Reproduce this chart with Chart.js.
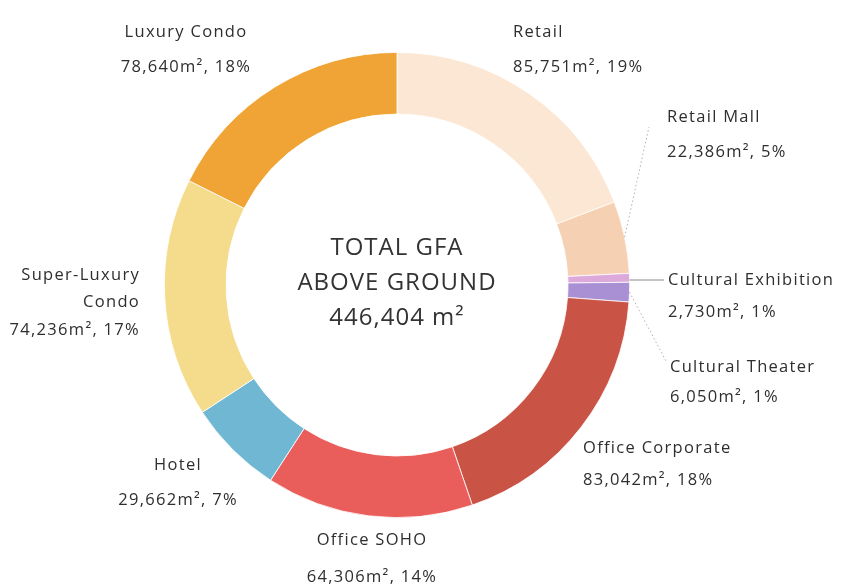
<!DOCTYPE html>
<html>
<head>
<meta charset="utf-8">
<script src="https://cdn.jsdelivr.net/npm/chart.js@4.4.0/dist/chart.umd.min.js"></script>
<style>
html,body{margin:0;padding:0;background:#fff;}
#wrap{width:843px;height:588px;position:relative;}
</style>
</head>
<body>
<div id="wrap"><canvas id="c"></canvas></div>
<script>
// ---- data ----
const categories = ["Retail","Retail Mall","Cultural Exhibition","Cultural Theater","Office Corporate","Office SOHO","Hotel","Super-Luxury Condo","Luxury Condo"];
const areas = [85751, 22386, 2730, 6050, 83042, 64306, 29662, 74236, 78640];
const percents = [19, 5, 1, 1, 18, 14, 7, 17, 18];
const labelLines = [["Retail"],["Retail Mall"],["Cultural Exhibition"],["Cultural Theater"],["Office Corporate"],["Office SOHO"],["Hotel"],["Super-Luxury","Condo"],["Luxury Condo"]];
const centerLines = ["TOTAL GFA","ABOVE GROUND","446,404 m²"];

// ---- style / layout ----
const colors = ["#FBE7D3","#F6D0B2","#DDA9DA","#A990D4","#C95446","#E95E5B","#6FB7D2","#F5DC8C","#F0A435"];
// label anchor offsets from the doughnut centre: [dx, dy(first line), align, lineGap]
const labelLayout = [
  [116,-253,"left",35],
  [270,-168,"left",35],
  [271,-5,"left",32],
  [273,82,"left",30],
  [186,163,"left",32],
  [-25,255,"center",37],
  [-219,180,"center",35],
  [-257,-10,"right",27.5],
  [-211,-253,"center",35]
];
const FONT = "'Open Sans', 'DejaVu Sans', sans-serif";

function fmt(v){ return v.toLocaleString('en-US'); }

const labelPlugin = {
  id:'labels',
  afterDraw(chart){
    const ctx = chart.ctx;
    const meta = chart.getDatasetMeta(0);
    const a0 = meta.data[0];
    const cx = a0.x, cy = a0.y, R = a0.outerRadius;
    ctx.save();
    // leader lines
    ctx.strokeStyle = "#8a8a8a";
    ctx.lineWidth = 1;
    const ex = meta.data[2];
    const exMid = (ex.startAngle+ex.endAngle)/2;
    ctx.beginPath();
    ctx.moveTo(cx+Math.cos(exMid)*R, cy+labelLayout[2][1]);
    ctx.lineTo(cx+labelLayout[2][0]-4, cy+labelLayout[2][1]);
    ctx.stroke();
    ctx.setLineDash([1.5,2.5]);
    ctx.strokeStyle = "#b0b0b0";
    const th = meta.data[3];
    const thMid = (th.startAngle+th.endAngle)/2;
    ctx.beginPath();
    ctx.moveTo(cx+Math.cos(thMid)*R, cy+Math.sin(thMid)*R);
    ctx.lineTo(cx+labelLayout[3][0]-4, cy+labelLayout[3][1]-6);
    ctx.stroke();
    const rm = meta.data[1];
    const rmMid = (rm.startAngle+rm.endAngle)/2;
    ctx.beginPath();
    ctx.moveTo(cx+Math.cos(rmMid)*R, cy+Math.sin(rmMid)*R);
    ctx.lineTo(cx+labelLayout[1][0]-18, cy+labelLayout[1][1]+10);
    ctx.stroke();
    ctx.setLineDash([]);
    // labels
    ctx.fillStyle = "#2e2e2e";
    ctx.font = "16.5px " + FONT;
    ctx.letterSpacing = "1.3px";
    ctx.textBaseline = "middle";
    categories.forEach((c,i)=>{
      const [dx,dy,al,gap] = labelLayout[i];
      ctx.textAlign = al;
      const lines = labelLines[i].concat([fmt(areas[i])+"m², "+percents[i]+"%"]);
      lines.forEach((t,k)=>{ ctx.fillText(t, cx+dx, cy+dy+k*gap); });
    });
    // centre text
    ctx.font = "24px " + FONT;
    ctx.letterSpacing = "1px";
    ctx.textAlign = "center";
    ctx.fillStyle = "#333";
    centerLines.forEach((t,k)=>{ ctx.fillText(t, cx, cy-37+k*35); });
    ctx.restore();
  }
};

new Chart(document.getElementById('c'), {
  type:'doughnut',
  data:{
    labels: categories,
    datasets:[{
      data: areas,
      backgroundColor: colors,
      borderColor: "#ffffff",
      borderWidth: 0.8
    }]
  },
  options:{
    responsive:true,
    maintainAspectRatio:false,
    animation:false,
    cutout:'73.5%',
    layout:{padding:{top:52,bottom:70,left:150,right:199}},
    plugins:{legend:{display:false},tooltip:{enabled:false}}
  },
  plugins:[labelPlugin]
});
</script>
</body>
</html>
